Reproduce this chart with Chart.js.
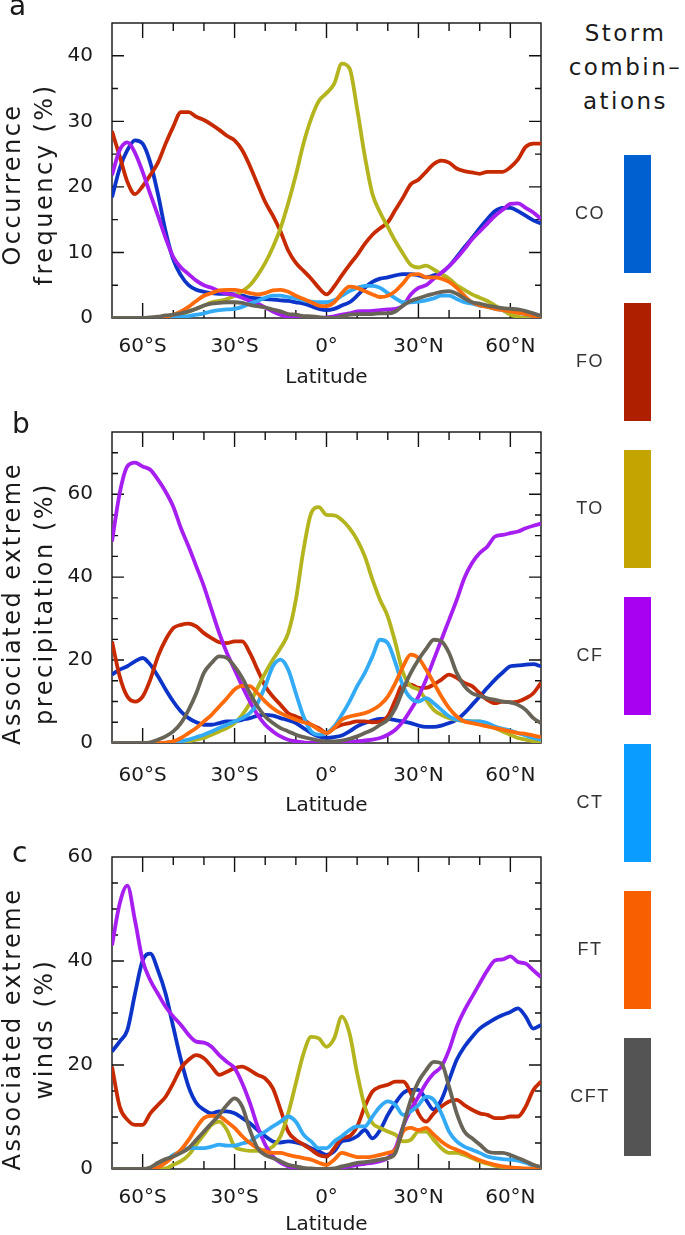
<!DOCTYPE html>
<html>
<head>
<meta charset="utf-8">
<script src="https://cdn.jsdelivr.net/npm/chart.js@4.4.1/dist/chart.umd.min.js"></script>
<style>
  body { margin: 0; background: #fff; width: 685px; height: 1235px; position: relative; overflow: hidden; }
  canvas { position: absolute; left: 0; }
  .txt { position: absolute; font-family: 'DejaVu Sans', sans-serif; color: #1a1a1a; }
  .panel { font-size: 28px; }
  .lg-title { left: 563px; width: 125px; text-align: center; font-size: 23px; line-height: 34px; letter-spacing: 2.5px; }
  .lg-lab { position: absolute; width: 64px; left: 558px; text-align: center; font-family: 'Liberation Sans', Arial, sans-serif; font-size: 18px; letter-spacing: 1.5px; color: #333; }
  .lg-bar { position: absolute; left: 624px; width: 27px; height: 118px; }
</style>
</head>
<body>
<canvas id="chartA" width="560" height="395" style="top:0"></canvas>
<canvas id="chartB" width="560" height="420" style="top:400px"></canvas>
<canvas id="chartC" width="560" height="405" style="top:830px"></canvas>
<div class="txt panel" style="left:9px;top:-11px">a</div>
<div class="txt panel" style="left:12px;top:407px">b</div>
<div class="txt panel" style="left:12px;top:836px">c</div>
<div class="txt lg-title" style="top:16px">Storm<br>combin–<br>ations</div>
<div id="legend"></div>

<script>
// latitude grid (deg, south negative)
const lat = [-70, -67.5, -65, -62.5, -60, -57.5, -55, -52.5, -50, -47.5, -45, -42.5, -40, -37.5, -35, -32.5, -30, -27.5, -25, -22.5,
  -20, -17.5, -15, -12.5, -10, -7.5, -5, -2.5, 0, 2.5, 5, 7.5, 10, 12.5, 15, 17.5, 20, 22.5, 25, 27.5,
  30, 32.5, 35, 37.5, 40, 42.5, 45, 47.5, 50, 52.5, 55, 57.5, 60, 62.5, 65, 67.5, 70];

const stormTypes = ['CO', 'FO', 'TO', 'CF', 'CT', 'FT', 'CFT'];
const lineColors = ['#0c34c8', '#c82a00', '#b4b41e', '#a61ef0', '#32aaf5', '#ff6a0a', '#686458'];
const legendColors = ['#0060d0', '#ae1f00', '#c4a400', '#a800f0', '#0a9dff', '#f85f00', '#545454'];

const xTickVals = [-60, -30, 0, 30, 60];
const xTickLabels = ['60°S', '30°S', '0°', '30°N', '60°N'];

// a: occurrence frequency (%)
const occCO = [18.4, 22.8, 25.6, 27.1, 26.6, 23.7, 18.9, 13.2, 8.9, 6.5, 5.0, 4.3, 4.0, 3.8, 3.7, 3.7, 3.6, 3.4, 3.1, 3.0,
  2.9, 2.8, 2.7, 2.6, 2.4, 2.2, 1.8, 1.4, 1.2, 1.4, 1.9, 2.4, 3.4, 4.6, 5.5, 6.0, 6.2, 6.5, 6.7, 6.7,
  6.5, 6.2, 6.5, 6.9, 7.9, 9.3, 10.8, 12.2, 13.7, 15.1, 16.3, 16.8, 16.8, 16.3, 15.6, 14.9, 14.4];
const occFO = [28.5, 24.7, 20.8, 18.9, 20.1, 21.8, 23.7, 26.6, 29.2, 31.4, 31.4, 30.7, 30.2, 29.5, 28.7, 27.8, 27.1, 25.6, 23.2, 20.4,
  17.7, 15.6, 13.2, 10.3, 8.4, 7.2, 6.0, 4.6, 3.6, 4.8, 6.5, 8.1, 9.6, 11.3, 12.7, 13.7, 14.6, 16.5, 18.4, 20.4,
  21.1, 22.3, 23.5, 24.0, 23.7, 22.8, 22.4, 22.2, 22.0, 22.3, 22.3, 22.3, 23.0, 24.2, 26.1, 26.6, 26.6];
const occTO = [0, 0, 0, 0, 0, 0, 0, 0.05, 0.2, 0.5, 1.0, 1.4, 1.9, 2.4, 2.6, 2.9, 3.4, 4.1, 5.0, 6.5,
  8.4, 10.8, 13.7, 17.5, 21.8, 26.6, 30.4, 33.1, 34.3, 35.7, 38.8, 38.1, 31.9, 24.7, 18.9, 16.1, 13.9, 11.7, 9.8, 8.1,
  7.7, 8.0, 7.4, 6.7, 6.0, 5.0, 4.3, 3.6, 3.1, 2.6, 1.9, 1.2, 0.5, 0.2, 0, 0, 0];
const occCF = [21.8, 25.6, 26.8, 25.2, 22.3, 18.9, 15.6, 12.2, 9.3, 7.7, 6.7, 5.7, 5.0, 4.6, 4.1, 3.7, 3.5, 3.1, 2.6, 2.2,
  1.6, 1.0, 0.5, 0.15, 0, 0, 0, 0, 0.1, 0.25, 0.5, 0.7, 1.0, 1.05, 1.1, 1.2, 1.3, 1.4, 1.9, 3.6,
  4.6, 5.0, 6.0, 6.9, 7.9, 9.1, 10.5, 12.0, 13.2, 14.4, 15.6, 16.5, 17.4, 17.5, 16.8, 16.1, 15.1];
const occCT = [0, 0, 0, 0, 0, 0, 0, 0.05, 0.1, 0.2, 0.3, 0.5, 0.7, 1.0, 1.2, 1.3, 1.4, 1.7, 2.2, 2.6,
  3.1, 3.4, 3.4, 3.2, 3.0, 2.7, 2.5, 2.4, 2.4, 2.7, 3.4, 4.1, 4.6, 4.9, 4.9, 4.6, 3.8, 3.0, 2.4, 2.4,
  2.5, 2.7, 3.0, 3.4, 3.4, 2.9, 2.4, 2.2, 1.9, 1.7, 1.4, 1.2, 1.05, 0.8, 0.6, 0.25, 0];
const occFT = [0, 0, 0, 0, 0, 0, 0, 0.2, 0.5, 1.0, 1.7, 2.6, 3.4, 3.8, 4.2, 4.3, 4.3, 4.1, 3.8, 3.6,
  3.8, 4.2, 4.3, 4.0, 3.4, 2.9, 2.4, 1.9, 1.8, 2.4, 3.8, 4.8, 4.6, 4.1, 3.6, 3.2, 3.4, 4.1, 5.3, 6.6,
  6.7, 6.2, 6.2, 6.0, 5.5, 4.6, 3.4, 2.4, 1.9, 1.7, 1.4, 1.2, 1.0, 0.8, 0.6, 0.3, 0.15];
const occCFT = [0, 0, 0, 0, 0, 0.1, 0.2, 0.4, 0.5, 0.7, 1.0, 1.4, 1.9, 2.2, 2.3, 2.4, 2.4, 2.3, 2.0, 1.8,
  1.6, 1.3, 1.0, 0.6, 0.5, 0.3, 0.25, 0.15, 0, 0, 0.25, 0.5, 0.6, 0.6, 0.6, 0.7, 0.7, 1.0, 1.9, 2.6,
  3.0, 3.4, 3.7, 4.0, 4.1, 3.7, 3.0, 2.4, 2.2, 1.9, 1.7, 1.5, 1.4, 1.3, 1.05, 0.7, 0.3];

// b: associated extreme precipitation (%)
const preCO = [16.5, 17.7, 18.5, 19.7, 20.5, 18.9, 16.1, 12.9, 10.0, 7.6, 6.0, 5.0, 4.4, 4.4, 4.8, 5.2, 5.2, 5.6, 6.0, 6.6,
  6.8, 6.6, 6.0, 5.5, 4.8, 3.6, 2.4, 1.6, 1.2, 1.4, 1.8, 2.8, 4.0, 4.8, 5.4, 5.8, 5.8, 5.5, 5.2, 4.8,
  4.2, 3.9, 3.9, 4.2, 4.8, 5.6, 7.2, 9.2, 11.2, 13.3, 15.3, 17.0, 18.5, 18.7, 18.9, 19.0, 18.5];
const preFO = [24.5, 16.1, 11.2, 10.0, 11.2, 15.3, 20.9, 24.9, 27.7, 28.5, 28.8, 28.1, 26.5, 25.3, 24.3, 24.1, 24.5, 24.5, 21.7, 17.7,
  13.7, 11.2, 9.2, 7.2, 6.4, 5.6, 4.4, 3.6, 2.4, 3.6, 4.4, 4.8, 5.2, 5.2, 5.0, 5.2, 6.4, 10.4, 14.1, 14.1,
  13.3, 13.3, 14.1, 15.3, 16.5, 15.7, 14.5, 13.7, 12.0, 10.4, 9.6, 10.0, 9.8, 10.0, 10.8, 12.0, 14.5];
const preTO = [0, 0, 0, 0, 0, 0, 0, 0, 0, 0.15, 0.4, 0.8, 1.2, 2.0, 2.8, 3.6, 4.8, 6.8, 9.6, 13.3,
  16.9, 20.1, 22.9, 26.5, 34.5, 46.6, 55.4, 56.9, 55.0, 54.9, 53.8, 51.8, 49.0, 45.0, 39.4, 34.5, 30.5, 24.1, 16.9, 13.7,
  12.9, 10.4, 8.0, 6.8, 6.0, 5.6, 5.2, 5.2, 5.2, 4.4, 3.6, 2.8, 2.0, 1.2, 0.8, 0.4, 0.15];
const preCF = [48.6, 60.2, 66.7, 67.6, 66.7, 65.9, 63.5, 60.6, 57.0, 51.8, 47.4, 42.6, 37.8, 32.1, 26.5, 21.7, 17.7, 13.7, 10.0, 6.8,
  4.4, 2.8, 1.6, 0.8, 0.4, 0.15, 0, 0, 0, 0, 0.15, 0.3, 0.4, 0.6, 0.8, 1.2, 2.0, 3.2, 5.2, 8.0,
  11.2, 15.3, 20.1, 24.9, 29.7, 34.5, 39.8, 43.4, 45.8, 47.4, 49.8, 50.2, 50.6, 51.0, 51.8, 52.4, 52.9];
const preCT = [0, 0, 0, 0, 0, 0, 0, 0.05, 0.15, 0.4, 0.8, 1.4, 2.0, 2.8, 3.6, 4.4, 5.2, 6.0, 7.2, 9.6,
  13.7, 18.5, 20.1, 17.7, 12.0, 6.4, 2.8, 2.0, 2.4, 4.0, 6.8, 10.0, 13.7, 16.9, 20.9, 24.9, 24.1, 19.3, 13.7, 10.8,
  10.0, 10.8, 9.6, 8.0, 6.4, 5.6, 5.4, 5.2, 5.2, 4.8, 4.0, 3.4, 3.0, 2.4, 1.8, 1.2, 0.8];
const preFT = [0, 0, 0, 0, 0, 0, 0, 0.1, 0.4, 1.2, 2.4, 3.6, 5.2, 6.8, 8.8, 10.8, 12.9, 13.8, 13.7, 12.0,
  10.0, 8.4, 7.2, 6.4, 5.6, 5.0, 4.4, 3.2, 2.4, 3.6, 5.6, 6.4, 6.8, 7.2, 8.0, 9.2, 11.2, 14.5, 18.5, 21.3,
  20.5, 17.7, 14.5, 11.2, 8.4, 6.4, 5.2, 4.8, 4.4, 4.0, 3.6, 3.2, 2.8, 2.4, 2.2, 1.8, 1.4];
const preCFT = [0, 0, 0, 0, 0, 0.15, 0.8, 1.6, 2.8, 4.8, 8.0, 12.0, 16.9, 19.3, 20.9, 20.5, 18.5, 15.7, 12.0, 8.8,
  6.4, 4.8, 3.6, 2.8, 2.0, 1.4, 1.0, 0.6, 0.4, 0.4, 0.6, 1.0, 1.6, 2.4, 3.2, 4.4, 5.6, 8.4, 12.9, 16.9,
  20.1, 22.7, 24.9, 24.5, 21.7, 16.9, 13.7, 12.0, 11.4, 10.8, 10.4, 10.0, 9.8, 9.2, 8.0, 6.0, 4.8];

// c: associated extreme winds (%)
const winCO = [22.6, 24.5, 26.7, 33.7, 40.1, 41.4, 38.2, 33.7, 27.3, 21.0, 15.8, 12.7, 11.4, 10.7, 11.1, 11.1, 10.7, 9.8, 8.8, 7.5,
  6.3, 5.3, 5.1, 5.3, 5.1, 4.7, 4.0, 3.4, 2.7, 3.4, 5.3, 5.6, 6.3, 7.5, 5.9, 7.5, 10.4, 12.7, 14.6, 15.2,
  15.2, 13.3, 11.4, 13.3, 17.1, 21.0, 23.5, 25.4, 27.0, 28.0, 28.9, 29.6, 30.2, 30.9, 29.3, 27.0, 27.7];
const winFO = [19.7, 12.0, 9.5, 8.5, 8.5, 10.7, 12.3, 13.9, 16.5, 19.4, 21.0, 21.9, 21.3, 19.7, 18.1, 18.7, 19.4, 19.7, 19.0, 18.1,
  17.4, 15.5, 11.4, 7.2, 5.6, 4.7, 3.7, 2.7, 2.4, 4.0, 5.9, 6.3, 8.2, 12.0, 14.9, 15.8, 16.2, 16.8, 16.8, 14.6,
  10.7, 9.1, 10.7, 12.0, 13.0, 13.3, 12.3, 11.4, 10.7, 10.4, 9.8, 9.8, 10.1, 10.1, 12.0, 15.2, 16.8];
const winTO = [0, 0, 0, 0, 0, 0, 0, 0.1, 0.8, 1.5, 2.7, 4.7, 6.6, 8.5, 9.1, 7.5, 4.3, 3.7, 3.5, 3.5,
  3.7, 4.3, 6.3, 10.7, 16.5, 22.2, 25.4, 25.1, 23.5, 25.1, 29.3, 26.1, 18.4, 12.0, 8.8, 7.9, 7.2, 6.6, 5.3, 5.6,
  7.2, 7.2, 5.6, 4.0, 3.1, 3.1, 2.7, 2.1, 1.5, 1.0, 0.6, 0.4, 0.2, 0, 0, 0, 0];
const winCF = [43.0, 51.0, 54.5, 47.8, 40.1, 36.3, 33.7, 31.2, 29.3, 27.7, 25.8, 24.5, 24.3, 23.5, 21.9, 20.6, 19.4, 16.5, 12.7, 8.2,
  4.7, 2.4, 1.2, 0.5, 0.2, 0, 0, 0, 0, 0, 0.2, 0.5, 0.8, 1.0, 1.2, 1.5, 2.1, 4.0, 8.2, 11.4,
  13.9, 16.5, 18.4, 19.7, 22.9, 27.3, 30.5, 33.1, 35.7, 38.2, 40.1, 40.3, 40.9, 39.8, 39.5, 38.2, 36.9];
const winCT = [0, 0, 0, 0, 0, 0.2, 0.8, 1.5, 2.7, 3.4, 4.0, 4.0, 4.0, 4.3, 4.7, 4.5, 4.5, 4.9, 5.3, 6.3,
  7.2, 8.2, 9.1, 10.1, 9.1, 6.6, 5.3, 4.0, 4.0, 5.3, 6.3, 7.5, 8.2, 8.2, 10.1, 12.0, 13.0, 12.3, 10.4, 11.1,
  12.3, 13.9, 13.3, 10.7, 7.2, 5.3, 4.3, 3.7, 3.1, 2.4, 2.1, 1.9, 1.8, 1.6, 1.2, 0.6, 0.2];
const winFT = [0, 0, 0, 0, 0, 0, 0.3, 1.2, 2.4, 3.7, 5.6, 7.9, 9.8, 10.2, 10.1, 9.1, 7.9, 6.3, 5.0, 4.0,
  3.4, 3.1, 3.1, 2.7, 2.4, 2.1, 1.8, 1.2, 0.8, 1.8, 3.1, 2.7, 2.3, 2.3, 2.4, 2.7, 3.1, 3.7, 7.2, 7.9,
  7.5, 7.9, 6.6, 5.3, 4.3, 3.7, 3.1, 2.3, 1.7, 1.2, 0.8, 0.5, 0.3, 0.2, 0.1, 0.05, 0];
const winCFT = [0, 0, 0, 0, 0, 0.3, 1.2, 1.9, 2.4, 3.1, 4.0, 5.6, 7.2, 8.8, 10.4, 12.3, 13.6, 12.0, 7.5, 4.0,
  2.7, 2.1, 1.5, 0.8, 0.5, 0.2, 0.1, 0, 0, 0.1, 0.5, 0.8, 1.2, 1.3, 1.5, 1.8, 2.1, 3.1, 8.2, 13.3,
  16.8, 19.0, 20.6, 20.3, 15.8, 10.7, 7.2, 5.9, 4.7, 3.4, 3.1, 3.1, 2.7, 2.1, 1.5, 0.8, 0.4];

const textFont = "'DejaVu Sans', sans-serif";

// closed frame with inward ticks on all four sides
const frameTicks = {
  id: 'frameTicks',
  beforeDatasetsDraw(chart, args, opts) {
    const { ctx, chartArea: a, scales: { x, y } } = chart;
    ctx.save();
    ctx.strokeStyle = '#111';
    ctx.lineWidth = 1.4;
    ctx.strokeRect(a.left, a.top, a.right - a.left, a.bottom - a.top);
    ctx.beginPath();
    for (let v = -60; v <= 60; v += 10) {
      const px = x.getPixelForValue(v);
      const len = v % 30 === 0 ? 15 : 8;
      ctx.moveTo(px, a.bottom); ctx.lineTo(px, a.bottom - len);
      ctx.moveTo(px, a.top); ctx.lineTo(px, a.top + len);
    }
    for (let v = 5; v < y.max; v += 5) {
      const py = y.getPixelForValue(v);
      const len = v % opts.major === 0 ? 12 : 6;
      ctx.moveTo(a.left, py); ctx.lineTo(a.left + len, py);
      ctx.moveTo(a.right, py); ctx.lineTo(a.right - len, py);
    }
    ctx.stroke();
    ctx.restore();
  }
};

// rotated two-line y title, drawn with wide letter spacing like the original
const sideTitle = {
  id: 'sideTitle',
  afterDraw(chart, args, opts) {
    const { ctx, chartArea: a } = chart;
    const cy = (a.top + a.bottom) / 2 + opts.shift;
    ctx.save();
    ctx.font = '24px ' + textFont;
    ctx.letterSpacing = '2.5px';
    ctx.fillStyle = '#1a1a1a';
    ctx.textAlign = 'center';
    ctx.textBaseline = 'alphabetic';
    opts.lines.forEach((line, k) => {
      ctx.save();
      ctx.translate(opts.baseX[k], cy);
      ctx.rotate(-Math.PI / 2);
      ctx.fillText(line, 0, 0);
      ctx.restore();
    });
    ctx.restore();
  }
};

function makePanel(canvasId, series, yMax, yStep, yTitle, box) {
  const ctx = document.getElementById(canvasId);
  new Chart(ctx, {
    type: 'line',
    data: {
      labels: lat,
      datasets: series.map((vals, i) => ({
        label: stormTypes[i],
        data: lat.map((la, j) => ({ x: la, y: vals[j] })),
        borderColor: lineColors[i],
        borderWidth: 3.8,
        pointRadius: 0,
        fill: false,
        tension: 0.35,
        cubicInterpolationMode: 'monotone',
        order: series.length - i
      }))
    },
    options: {
      responsive: false,
      animation: false,
      devicePixelRatio: 1,
      layout: { padding: { top: box.top, right: box.right, bottom: 0, left: 0 } },
      plugins: {
        legend: { display: false },
        tooltip: { enabled: false },
        frameTicks: { major: yStep },
        sideTitle: { lines: yTitle, baseX: [20, 52], shift: box.titleShift }
      },
      scales: {
        x: {
          type: 'linear',
          min: -70,
          max: 70,
          grid: { display: false },
          border: { display: false },
          afterBuildTicks: s => { s.ticks = xTickVals.map(v => ({ value: v })); },
          afterFit: s => { s.height = box.xAxis; },
          ticks: {
            color: '#1a1a1a',
            padding: box.tickPad,
            maxRotation: 0,
            font: { family: textFont, size: 20 },
            callback: v => xTickLabels[xTickVals.indexOf(v)]
          },
          title: {
            display: true,
            text: 'Latitude',
            color: '#1a1a1a',
            padding: { top: 0, bottom: box.titlePad },
            font: { family: textFont, size: 20, lineHeight: 1.2 }
          }
        },
        y: {
          min: 0,
          max: yMax,
          grid: { display: false },
          border: { display: false },
          afterFit: s => { s.width = box.left; },
          ticks: {
            stepSize: yStep,
            includeBounds: false,
            color: '#1a1a1a',
            padding: 11,
            font: { family: textFont, size: 20 }
          },
          title: { display: false }
        }
      }
    },
    plugins: [frameTicks, sideTitle]
  });
}

makePanel('chartA', [occCO, occFO, occTO, occCF, occCT, occFT, occCFT], 45, 10,
  ['Occurrence', 'frequency (%)'],
  { top: 5, right: 19, left: 112, xAxis: 77, tickPad: 9, titlePad: 5, titleShift: 14 });
makePanel('chartB', [preCO, preFO, preTO, preCF, preCT, preFT, preCFT], 75, 20,
  ['Associated extreme', 'precipitation (%)'],
  { top: 32, right: 19, left: 112, xAxis: 77, tickPad: 13, titlePad: 2, titleShift: 16 });
makePanel('chartC', [winCO, winFO, winTO, winCF, winCT, winFT, winCFT], 60, 20,
  ['Associated extreme', 'winds (%)'],
  { top: 27, right: 19, left: 112, xAxis: 66, tickPad: 9, titlePad: -2, titleShift: 16 });

// colour-bar legend on the right
const legendTops = [155, 303, 450, 597, 744, 891, 1038];
const legend = document.getElementById('legend');
stormTypes.forEach((name, i) => {
  const bar = document.createElement('div');
  bar.className = 'lg-bar';
  bar.style.top = legendTops[i] + 'px';
  bar.style.background = legendColors[i];
  legend.appendChild(bar);
  const lab = document.createElement('div');
  lab.className = 'lg-lab';
  lab.style.top = (legendTops[i] + 48) + 'px';
  lab.textContent = name;
  legend.appendChild(lab);
});
</script>
</body>
</html>
